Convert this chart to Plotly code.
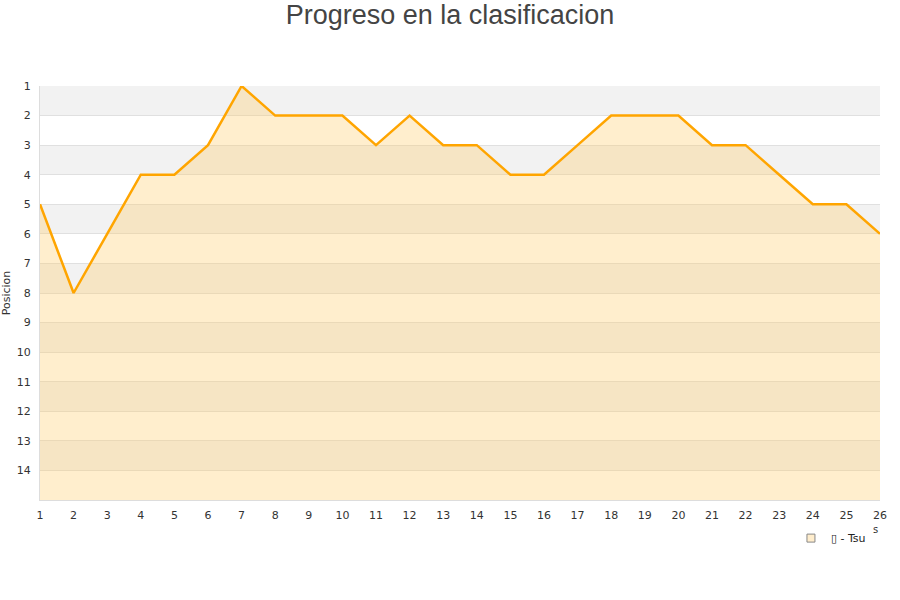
import plotly.graph_objects as go

jornadas = list(range(1, 27))
posiciones = [5, 8, 6, 4, 4, 3, 1, 2, 2, 2, 3, 2, 3, 3, 4, 4, 3, 2, 2, 2, 3, 3, 4, 5, 5, 6]
y_ticks = list(range(1, 15))
serie = "\u25af - Tsu"
fondo = 15

fig = go.Figure()
fig.add_trace(go.Scatter(x=jornadas, y=[fondo] * len(jornadas), mode="lines",
                         line=dict(width=0, color="rgba(0,0,0,0)"), showlegend=False,
                         hoverinfo="skip"))
fig.add_trace(go.Scatter(x=jornadas, y=posiciones, mode="lines", name=serie,
                         line=dict(color="#FFA500", width=2.5), showlegend=False,
                         fill="tonexty", fillcolor="rgba(255,204,102,0.33)"))
# legend-only entry with square symbol
fig.add_trace(go.Scatter(x=[None], y=[None], mode="markers", name=serie,
                         marker=dict(symbol="square", size=8, color="#FFEDCC",
                                     line=dict(color="#888", width=1))))

shapes = []
for k in range(1, 15, 2):
    shapes.append(dict(type="rect", xref="paper", yref="y", x0=0, x1=1, y0=k, y1=k + 1,
                       fillcolor="#f2f2f2", line=dict(width=0), layer="below"))
fig.update_layout(
    width=900, height=600,
    paper_bgcolor="white", plot_bgcolor="white",
    margin=dict(l=40, r=20, t=86, b=100, autoexpand=False),
    title=dict(text="Progreso en la clasificacion", x=0.5, xanchor="center", y=0.975,
               yanchor="middle", font=dict(family="Liberation Sans, Arial", size=27, color="#444")),
    shapes=shapes,
    showlegend=True,
    legend=dict(orientation="h", x=0.894, xanchor="left", y=-0.057, yanchor="top",
                font=dict(family="DejaVu Sans", size=11, color="#222"),
                bgcolor="rgba(0,0,0,0)", itemwidth=30),
    xaxis=dict(range=[1, 26], tickvals=jornadas, ticktext=[str(j) for j in jornadas],
               automargin=False,
               showgrid=False, zeroline=False, showline=True, linecolor="#ddd",
               ticks="outside", ticklen=5, tickcolor="rgba(0,0,0,0)",
               tickfont=dict(family="DejaVu Sans", size=11, color="#333")),
    yaxis=dict(range=[15, 1], tickvals=y_ticks, ticktext=[str(t) for t in y_ticks],
               automargin=False,
               showgrid=True, gridcolor="#e0e0e0", zeroline=False, showline=True,
               linecolor="#ddd", ticks="outside", ticklen=6, tickcolor="rgba(0,0,0,0)",
               tickfont=dict(family="DejaVu Sans", size=11, color="#333"),
               title=dict(text="Posicion", standoff=4,
                          font=dict(family="DejaVu Sans", size=11, color="#333"))),
)
fig.add_annotation(text="s", xref="paper", yref="paper", x=0.9995, y=-0.09,
                   showarrow=False, font=dict(family="DejaVu Sans", size=10, color="#333"))
fig.write_html("out.html", config={"displayModeBar": False},
               post_script="document.body.style.margin='0';")
